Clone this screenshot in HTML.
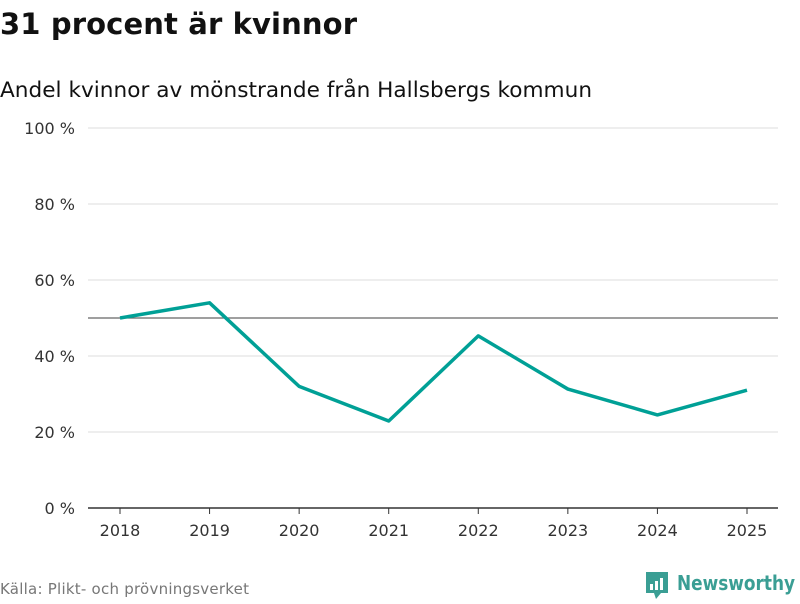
<!DOCTYPE html>
<html><head><meta charset="utf-8"><style>
body{margin:0;width:800px;height:600px;background:#fff;font-family:"DejaVu Sans","Liberation Sans",sans-serif;overflow:hidden}
</style></head><body>
<svg width="800" height="600">
<text x="0" y="34" font-size="29" font-weight="bold" fill="#111" textLength="357">31 procent är kvinnor</text>
<text x="0" y="97" font-size="21.6" fill="#111" textLength="592">Andel kvinnor av mönstrande från Hallsbergs kommun</text>
<g id="grid"></g>
<g id="xax"></g>
<path id="line" fill="none" stroke="#00a096" stroke-width="3.5" stroke-linejoin="round"/>
<text x="0" y="594" font-size="15" fill="#777" textLength="249">Källa: Plikt- och prövningsverket</text>
<g>
<path d="M646 572h22v21h-7l-5 6-2-6h-8z" fill="#3a9e94"/>
<rect x="650" y="584" width="3" height="6" fill="#fff"/><rect x="655" y="581" width="3" height="9" fill="#fff"/><rect x="660" y="578" width="3" height="12" fill="#fff"/>
<text x="677" y="590" font-size="20" fill="#3a9e94" font-weight="bold" textLength="118" lengthAdjust="spacingAndGlyphs">Newsworthy</text>
</g>
</svg>
<script>
const years=["2018","2019","2020","2021","2022","2023","2024","2025"];
const values=[50,54,32,22.9,45.3,31.3,24.5,31];
const yTicks=[0,20,40,60,80,100];
const refValue=50;
const ns="http://www.w3.org/2000/svg";
const y=v=>508-v*3.8, x=i=>120+i*89.57;
const g=document.getElementById('grid'), xa=document.getElementById('xax');
function mk(t,a,p){const e=document.createElementNS(ns,t);for(const k in a)e.setAttribute(k,a[k]);p.appendChild(e);return e;}
yTicks.forEach(v=>{
 const l=mk('line',{x1:88,x2:778,y1:y(v),y2:y(v),stroke:v===0?'#333':'#ddd','stroke-width':v===0?1.5:1},g);
 
 
 const t=mk('text',{x:75,y:y(v)+6,'text-anchor':'end','font-size':16,fill:'#333'},g);t.textContent=v+' %';
 
 
});
const r=mk('line',{x1:88,x2:778,y1:y(refValue),y2:y(refValue),stroke:'#666','stroke-width':1.3},g);


years.forEach((yr,i)=>{
 mk('line',{x1:x(i),x2:x(i),y1:508,y2:514,stroke:'#333'},xa);
 const t=mk('text',{x:x(i),y:536,'text-anchor':'middle','font-size':16,fill:'#333'},xa);t.textContent=yr;
 
 
});
document.getElementById('line').setAttribute('d',values.map((v,i)=>(i?'L':'M')+x(i)+' '+y(v)).join(''));
</script>
</body></html>
